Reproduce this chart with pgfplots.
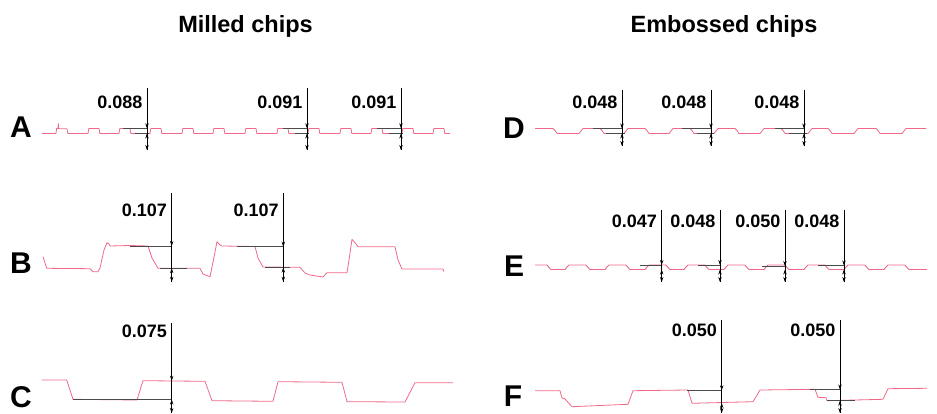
\documentclass[border=0pt]{standalone}
\usepackage{pgfplots}
\pgfplotsset{compat=1.18}
\usepackage{fontspec}
\setmainfont{Liberation Sans}
\usetikzlibrary{arrows.meta}
\definecolor{trace}{RGB}{240,105,138}
\definecolor{refc}{RGB}{75,75,75}
\newcommand{\vfont}{\fontsize{18}{21}\selectfont\bfseries}
\newcommand{\rfont}{\fontsize{30}{34}\selectfont\bfseries}
\newcommand{\tfont}{\fontsize{23.5}{27}\selectfont\bfseries}
% measurement marker: x, top, upper level, lower level, bottom, label, label y
\newcommand{\meas}[7]{%
  \addplot[black, line width=0.6pt] coordinates {(#1,#2) (#1,#5)};
  \draw[black, line width=0.6pt, -{Stealth[length=5pt,width=3.4pt]}] ([yshift=9pt]axis cs:#1,#3) -- (axis cs:#1,#3);
  \draw[black, line width=0.6pt, -{Stealth[length=5pt,width=3.4pt]}] ([yshift=-9pt]axis cs:#1,#4) -- (axis cs:#1,#4);
  \draw[black, line width=0.6pt, -{Stealth[length=5pt,width=3.4pt]}] ([yshift=7pt]axis cs:#1,#5) -- (axis cs:#1,#5);
  \node[anchor=east, inner sep=0pt, xshift=-4.5pt, font=\vfont] at (axis cs:#1,#7) {#6};
}
\begin{document}
\begin{tikzpicture}
\useasboundingbox (0,0) rectangle (937pt,414pt);
\begin{axis}[
  at={(0,0)}, anchor=south west,
  width=937pt, height=414pt, scale only axis,
  xmin=0, xmax=937, ymin=0, ymax=414, y dir=reverse,
  hide axis, clip=false,
  every axis plot/.append style={line join=round},
]
% ---------------- titles and row letters
\node[font=\tfont, anchor=base] at (axis cs:245.5,32.5) {Milled chips};
\node[font=\tfont, anchor=base] at (axis cs:724,32.5) {Embossed chips};
\node[font=\rfont, inner sep=0pt] at (axis cs:21,127) {A};
\node[font=\rfont, inner sep=0pt] at (axis cs:21,263) {B};
\node[font=\rfont, inner sep=0pt] at (axis cs:21,397) {C};
\node[font=\rfont, inner sep=0pt] at (axis cs:514,128) {D};
\node[font=\rfont, inner sep=0pt] at (axis cs:514,266) {E};
\node[font=\rfont, inner sep=0pt] at (axis cs:513,396) {F};

% ---------------- trace A
\addplot[trace, line width=0.8pt] coordinates {
(42,133.5) (56,133.5) (56.6,128.5) (58,128.5) (58.3,123.5) (58.7,128.8) (67,128.8) (67.8,133.5)
(88,133.5) (88.8,128.5) (99,128.5) (99.8,133.5)
(119,133.5) (119.8,128.5) (130,128.5) (130.8,133.5)
(150,133.5) (150.8,128.5) (161,128.5) (161.8,133.5)
(182,133.5) (182.8,128.5) (193,128.5) (193.8,133.5)
(213,133.5) (213.8,128.5) (224,128.5) (224.8,133.5)
(245,133.5) (245.8,128.5) (256,128.5) (256.8,133.5)
(277,133.5) (277.8,128.5) (288,128.5) (288.8,133.5)
(308,133.5) (308.8,128.5) (319,128.5) (319.8,133.5)
(340,133.5) (340.8,128.5) (351,128.5) (351.8,133.5)
(371,133.5) (371.8,128.5) (382,128.5) (382.8,133.5)
(402,133.5) (402.8,128.5) (413,128.5) (413.8,133.5)
(433,133.5) (433.8,128.5) (444,128.5) (444.8,133.5) (450,133.5)
};
\addplot[refc, line width=0.8pt] coordinates {(123,128.3) (147,128.3)};
\addplot[refc, line width=0.8pt] coordinates {(283,128.3) (307,128.3)};
\addplot[refc, line width=0.8pt] coordinates {(377,128.3) (401,128.3)};
\addplot[refc, line width=0.6pt] coordinates {(135,133.3) (149,133.3)};
\addplot[refc, line width=0.6pt] coordinates {(295,133.3) (309,133.3)};
\addplot[refc, line width=0.6pt] coordinates {(389,133.3) (403,133.3)};
\meas{147}{88}{128.3}{133.5}{150}{0.088}{102.7}
\meas{307}{88}{128.3}{133.5}{150}{0.091}{102.7}
\meas{401}{88}{128.3}{133.5}{150}{0.091}{102.7}

% ---------------- trace B
\addplot[trace, line width=0.8pt] coordinates {
(43,256.7) (46.7,268.3) (90,268.7) (93,271.7) (98,271.7) (100,268) (104,250) (107,242.7) (109,244) (110,246)
(130,245.5) (148,246) (152,258) (158,268.3) (200,268.3) (203,274) (210,276.7) (213,262) (217,241.7) (220,245) (222,246)
(255,246.5) (258,258) (263,267) (300,267.3) (305,273) (310,275) (323,277) (327,272.7) (347,272.7) (349,260) (352,239.3) (356,244) (358,246.7)
(395,246.7) (398,260) (402,269) (443,269) (444,271.7)
};
\addplot[refc, line width=0.8pt] coordinates {(130,246) (171.7,246)};
\addplot[refc, line width=0.8pt] coordinates {(237,246.7) (283.3,246.7)};
\addplot[refc, line width=0.6pt] coordinates {(160,268.3) (187,268.3)};
\addplot[refc, line width=0.6pt] coordinates {(265,267.5) (290,267.5)};
\meas{171.7}{193}{246}{268.3}{281.7}{0.107}{210}
\meas{283.3}{193}{246.7}{267.5}{281.7}{0.107}{210}

% ---------------- trace C
\addplot[trace, line width=0.8pt] coordinates {
(41.7,380) (66.7,380) (73,399.3) (137,400) (143,380.7) (205,381.3) (212,400.7) (273,401.3) (278,381.7)
(342,382.3) (347,401.7) (405,402) (415,382.7) (453,382.7)
};
\addplot[refc, line width=0.8pt] coordinates {(73,399.5) (171.7,399.5)};
\meas{171.7}{323}{380.7}{399.5}{413}{0.075}{331.7}

% ---------------- trace D
\addplot[trace, line width=0.8pt] coordinates {
(535,128.5) (553,128.5) (555,130.5) (557,133.3) (559,133.5) (579,133.5) (581,131) (583,128.5) (600,128.5) (602,130.5) (604,133.5)
(624,133.5) (626,131) (628,128.5) (645,128.5) (647,130.5) (649,133.5) (669,133.5) (671,131) (673,128.5) (690,128.5) (692,130.5) (694,133.5)
(714,133.5) (716,131) (718,128.5) (735,128.5) (737,130.5) (739,133.5) (760,133.5) (762,131) (764,128.5) (781,128.5) (783,130.5) (785,133.5)
(808,133.5) (810,131) (812,128.5) (828,128.5) (830,130.5) (832,133.5) (854,133.5) (856,131) (858,128.5) (876,128.5) (878,130.5) (880,133.5)
(902,133.5) (904,131) (906,128.5) (926,128.5)
};
\addplot[refc, line width=0.8pt] coordinates {(593,128.5) (622,128.5)};
\addplot[refc, line width=0.8pt] coordinates {(682,128.5) (711,128.5)};
\addplot[refc, line width=0.8pt] coordinates {(775,128.5) (804,128.5)};
\addplot[refc, line width=0.6pt] coordinates {(606,133.5) (625,133.5)};
\addplot[refc, line width=0.6pt] coordinates {(697,133.5) (714,133.5)};
\addplot[refc, line width=0.6pt] coordinates {(789,133.5) (807,133.5)};
\meas{622}{90}{128.5}{133.5}{146}{0.048}{102.7}
\meas{711}{90}{128.5}{133.5}{146}{0.048}{102.7}
\meas{804}{90}{128.5}{133.5}{146}{0.048}{102.7}

% ---------------- trace E
\addplot[trace, line width=0.9pt] coordinates {
(535,265) (547,265) (549,267.5) (551,269.5) (565,269.5) (567,267) (569,265) (586,265) (588,267.5) (590,269.5)
(605,269.5) (607,267) (609,265) (626,265) (628,267.5) (630,269.5) (645,269.5) (647,267) (649,265) (666,265) (668,267.5) (670,269.5)
(684,269.5) (686,267) (688,265) (705,265) (707,267.5) (709,269.5) (724,269.5) (726,267) (728,265) (745,265) (747,267.5) (749,269.5)
(764,269.5) (766,267) (768,265) (785,265) (787,267.5) (789,269.5) (804,269.5) (806,267) (808,265) (825,265) (827,267.5) (829,269.5)
(844,269.5) (846,267) (848,265) (865,265) (867,267.5) (869,269.5) (884,269.5) (886,267) (888,265) (905,265) (907,267.5) (909,269.5) (927,269.5)
};
\addplot[refc, line width=0.7pt] coordinates {(640,265) (661.7,265)};
\addplot[refc, line width=0.7pt] coordinates {(698,265) (720,265)};
\addplot[refc, line width=0.7pt] coordinates {(762,266.5) (785,266.5)};
\addplot[refc, line width=0.7pt] coordinates {(818,265.5) (844,265.5)};
\meas{661.7}{210}{265}{269.5}{282}{0.047}{221.7}
\meas{720}{210}{265}{269.5}{282}{0.048}{221.7}
\meas{785}{210}{266}{269.5}{282}{0.050}{221.7}
\meas{844}{210}{265.5}{269.5}{282}{0.048}{221.7}

% ---------------- trace F
\addplot[trace, line width=0.8pt] coordinates {
(535,390.7) (560,390.7) (562,398) (565,399) (572,406.7) (628,404.3) (633,390.7) (688,390) (692,403.3) (753,401.7)
(760,390) (815,389.3) (818,397.3) (826,397.7) (827,400.7) (883,399.3) (888,388.7) (927,388.3)
};
\addplot[refc, line width=0.8pt] coordinates {(687,390.3) (721.7,390.3)};
\addplot[refc, line width=0.8pt] coordinates {(810,389.5) (840,389.5)};
\addplot[refc, line width=0.6pt] coordinates {(827,400.7) (855,400.7)};
\meas{721.7}{320}{390.3}{403}{413}{0.050}{330.7}
\meas{840}{320}{389.5}{400.7}{413}{0.050}{330.7}
\end{axis}
\end{tikzpicture}
\end{document}
